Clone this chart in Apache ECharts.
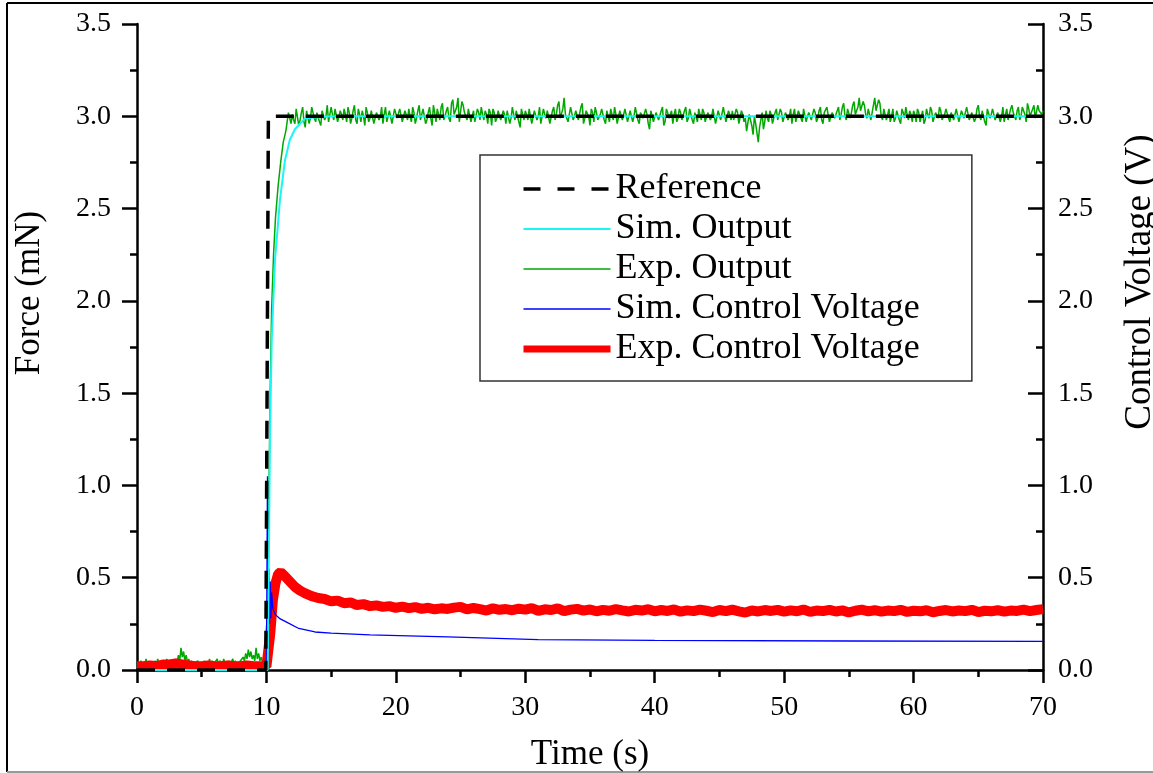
<!DOCTYPE html>
<html>
<head>
<meta charset="utf-8">
<script src="https://cdn.jsdelivr.net/npm/echarts@6/dist/echarts.min.js"></script>
<style>
html,body{margin:0;padding:0;background:#fff;}
#chart{width:1153px;height:773px;}
</style>
</head>
<body>
<div id="chart"></div>
<script>
// ---- Data ----
const seriesNames = ['Reference', 'Sim. Output', 'Exp. Output', 'Sim. Control Voltage', 'Exp. Control Voltage'];
const xTicks = { min: 0, max: 70, interval: 10 };
const yTicks = { min: 0, max: 3.5, interval: 0.5 };

// Reference step [t, F]
const referenceData = [[0, 0], [9.95, 0], [10.15, 3.0], [70, 3.0]];

// Simulated output [t, F]
const simOutputData = [[0, 0], [10.1, 0], [10.2, 0.7], [10.28, 1.3], [10.41, 1.79], [10.66, 2.22],
  [11.05, 2.55], [11.43, 2.76], [11.8, 2.87], [12.2, 2.93], [13.0, 2.99], [15.0, 3.0], [70, 3.0]];

// Experimental output: before step, sampled every 0.1 s from 0 s
const expOutPre = [
  0.03,0.04,0.02,0.05,0.03,0.04,0.03,0.06,0.02,0.04,
  0.05,0.03,0.04,0.02,0.05,0.03,0.06,0.03,0.04,0.02,
  0.05,0.04,0.03,0.06,0.03,0.05,0.02,0.04,0.05,0.03,
  0.06,0.04,0.08,0.05,0.12,0.07,0.10,0.05,0.08,0.04,
  0.06,0.03,0.05,0.04,0.02,0.04,0.03,0.05,0.02,0.03,
  0.04,0.02,0.05,0.03,0.04,0.02,0.06,0.03,0.05,0.02,
  0.04,0.03,0.06,0.02,0.05,0.04,0.03,0.06,0.03,0.04,
  0.02,0.05,0.03,0.04,0.06,0.03,0.05,0.02,0.04,0.03,
  0.05,0.04,0.07,0.05,0.09,0.06,0.11,0.07,0.10,0.06,
  0.08,0.05,0.12,0.06,0.09,0.05,0.07,0.04,0.05,0.03
];
// Experimental output: rise [t, F]
const expOutRise = [[10.0, 0.04], [10.1, 0.3], [10.2, 1.0], [10.3, 1.55], [10.4, 1.95], [10.55, 2.25],
  [10.7, 2.45], [10.9, 2.62], [11.1, 2.75], [11.3, 2.86], [11.5, 2.92], [11.7, 3.02], [11.9, 2.96]];
// Experimental output: steady state, samples at 12.0, 12.2, 12.4 ... 70.0 s
const expOutSteadyA = [
  3.01,2.96,3.03,2.98,3.05,2.94,3.02,2.99,3.06,2.97,
  3.02,2.95,3.04,3.00,2.97,3.05,2.98,3.03,2.96,3.01,
  3.04,2.97,3.02,2.99,3.06,2.96,3.01,3.03,2.95,3.02,
  2.99,3.04,2.97,3.03,3.00,2.96,3.05,2.98,3.02,2.97,
  3.03,2.98,3.05,2.96,3.01,3.04,2.97,3.02,2.99,3.06,
  2.97,3.03,2.98,3.05,2.95,3.02,3.04,2.98,3.07,3.00,
  3.05,2.97,3.09,3.02,3.10,2.98,3.06,3.01,3.04,2.97,
  3.03,2.96,3.02,3.05,2.98,3.01,3.04,2.95,3.02,2.99,
  3.04,2.97,3.01,3.03,2.96,3.05,2.98,3.02,2.94,3.01,
  3.03,2.98,3.05,2.97,3.02,3.00,2.96,3.04,2.99,3.03,
  2.97,3.05,3.01,3.08,2.98,3.10,3.02,2.96,3.06,3.00,
  3.04,2.97,3.07,2.99,3.03,2.95,3.02,3.05,2.98,3.01,
  3.03,2.96,3.02,3.04,2.98,3.01,2.95,3.03,2.99,3.05,
  2.97,3.02,3.00,3.04,2.96,3.03,2.98,3.01,2.93,3.00,
  2.96,3.03,2.98,3.05,2.97,3.02,3.00,2.96,3.04,2.99,
  3.02,2.97,3.05,2.99,3.03,2.96,3.01,3.04,2.98,3.02,
  2.96,3.03,3.00,3.05,2.97,3.02,2.99,3.04,2.98,3.01,
  3.03,2.97,3.02,2.95,3.01,2.99,2.93,3.02,2.90,2.96,
  2.86,2.98,2.93,3.03,2.97,3.01,2.95,3.04,2.99,3.02,
  2.97,3.03,3.00,2.96,3.04,2.98,3.02,2.97,3.05,3.00,
  3.03,2.97,3.02,2.99,3.05,2.96,3.01,3.04,2.98,3.03,
  2.99,3.05,3.01,3.07,2.98,3.04,3.02,3.08,3.00,3.10,
  3.03,3.06,2.99,3.05,3.02,3.10,3.04,3.07,2.98,3.03,
  3.01,2.97,3.04,2.99,3.03,2.96,3.02,3.05,2.98,3.01,
  3.03,2.97,3.02,3.00,2.96,3.04,2.99,3.03,2.97,3.02,
  3.05,2.98,3.01,3.04,2.97,3.03,2.99,3.05,2.96,3.02,
  3.00,3.04,2.97,3.03,2.99,3.06,2.98,3.02,2.95,3.03,
  3.01,3.05,2.98,3.03,3.00,2.97,3.04,2.99,3.06,3.01,
  3.03,2.98,3.05,3.01,3.07,3.00,3.04,2.99,3.06,3.02,
  3.03
];
// Experimental output: steady state, samples at 12.1, 12.3, 12.5 ... 69.9 s
const expOutSteadyB = [
  2.98,3.04,2.95,3.02,2.97,3.03,2.96,3.05,2.99,3.02,
  2.97,3.03,2.98,3.06,2.96,3.01,3.04,2.97,3.03,2.98,
  3.01,3.05,2.96,3.03,2.98,3.04,2.97,3.00,3.05,2.97,
  3.03,2.96,3.02,2.98,3.05,3.01,2.97,3.03,2.96,3.04,
  2.99,3.04,2.97,3.03,2.98,3.00,3.05,2.96,3.03,2.98,
  3.04,2.96,3.02,2.99,3.06,2.97,3.01,3.05,2.98,3.03,
  2.99,3.07,3.01,3.05,2.97,3.08,3.02,2.98,3.03,3.00,
  2.97,3.04,2.98,3.01,3.03,2.96,3.02,3.04,2.97,3.03,
  2.98,3.03,2.96,3.04,2.99,3.01,3.03,2.97,3.04,2.98,
  3.01,3.04,2.96,3.03,2.98,3.05,2.97,3.01,3.03,2.96,
  3.03,2.98,3.06,2.99,3.04,3.01,2.97,3.05,2.98,3.03,
  2.98,3.05,2.96,3.03,3.00,3.04,2.97,3.02,2.99,3.04,
  2.98,3.03,2.97,3.01,3.05,2.96,3.03,2.98,3.04,2.97,
  3.03,2.97,3.05,2.98,3.02,2.99,3.04,2.96,3.03,2.97,
  3.02,2.98,3.03,2.95,3.04,2.99,3.03,3.01,2.97,3.04,
  2.98,3.03,2.97,3.04,2.98,3.02,2.97,3.01,3.04,2.97,
  3.02,2.98,3.04,2.96,3.03,2.98,3.05,2.97,3.03,2.98,
  2.98,3.04,2.96,3.03,2.97,2.92,3.01,2.95,3.00,2.91,
  2.94,3.02,2.97,2.99,3.03,2.96,3.02,2.98,3.04,2.97,
  3.02,2.98,3.04,3.01,2.97,3.03,2.99,3.04,2.97,3.02,
  2.98,3.04,2.97,3.03,2.98,3.02,3.05,2.97,3.02,2.99,
  3.03,2.98,3.05,3.00,3.04,2.99,3.06,3.01,3.05,3.03,
  3.08,3.01,3.04,2.98,3.06,3.03,3.09,3.00,3.04,2.98,
  3.04,3.00,2.97,3.03,2.98,3.04,2.99,3.01,3.03,2.97,
  3.01,3.04,2.97,3.03,2.98,3.01,3.05,2.97,3.02,2.99,
  3.03,2.97,3.04,2.99,3.02,2.98,3.04,2.97,3.03,2.99,
  3.05,2.98,3.02,2.97,3.04,3.00,3.03,2.97,3.04,2.99,
  3.04,2.98,3.02,2.97,3.05,3.01,2.98,3.04,3.02,2.98,
  3.05,3.00,3.03,2.97,3.04,3.02,3.06,2.99,3.03,3.01
];

// Simulated control voltage [t, V]
const simVoltageData = [[0, 0], [10.0, 0], [10.08, 1.05], [10.14, 0.3], [10.19, 0.55], [10.24, 0.25],
  [10.29, 0.48], [10.34, 0.28], [10.4, 0.42], [10.5, 0.33], [10.7, 0.3], [11.0, 0.28], [11.67, 0.255],
  [12.5, 0.225], [13.75, 0.206], [15, 0.2], [18, 0.19], [24, 0.18], [31, 0.165], [40, 0.16], [55, 0.157], [70, 0.155]];

// Experimental control voltage: before step, sampled every 0.5 s from 0 s
const expVoltPre = [0.02,0.02,0.025,0.02,0.03,0.03,0.035,0.03,0.025,0.02,0.02,0.025,0.02,0.02,0.025,0.02,0.02,0.025,0.02,0.02,0.02];
// rise and peak [t, V]
const expVoltRise = [[10.1, 0.02], [10.3, 0.2], [10.5, 0.38], [10.7, 0.47], [10.9, 0.52], [11.1, 0.53],
  [11.4, 0.51], [11.8, 0.48], [12.2, 0.45], [12.6, 0.43], [13.0, 0.415], [13.5, 0.40]];
// decay / steady, sampled every 0.5 s from 14 s
const expVoltSteady = [
  0.39,0.385,0.372,0.376,0.362,0.366,0.352,0.357,0.346,0.35,
  0.342,0.346,0.337,0.343,0.335,0.341,0.331,0.337,0.329,0.334,
  0.331,0.338,0.342,0.328,0.336,0.33,0.322,0.334,0.326,0.33,
  0.324,0.332,0.327,0.335,0.321,0.329,0.325,0.334,0.319,0.327,
  0.331,0.322,0.328,0.318,0.326,0.321,0.33,0.323,0.317,0.326,
  0.322,0.329,0.318,0.325,0.32,0.328,0.316,0.323,0.319,0.327,
  0.321,0.314,0.325,0.319,0.327,0.318,0.311,0.322,0.317,0.325,
  0.32,0.326,0.316,0.323,0.318,0.328,0.315,0.322,0.319,0.326,
  0.317,0.323,0.312,0.321,0.327,0.318,0.324,0.316,0.322,0.319,
  0.326,0.315,0.321,0.318,0.324,0.313,0.32,0.325,0.317,0.322,
  0.319,0.326,0.314,0.321,0.318,0.324,0.316,0.322,0.32,0.327,
  0.319,0.325,0.33
];

// ---- Assemble sampled series ----
function sampled(values, t0, dt) {
  return values.map((v, i) => [+(t0 + i * dt).toFixed(3), v]);
}
const steadyA = sampled(expOutSteadyA, 12, 0.2);
const steadyB = sampled(expOutSteadyB, 12.1, 0.2);
const steadyMerged = steadyA.concat(steadyB).sort((a, b) => a[0] - b[0]);
const expOutputData = sampled(expOutPre, 0, 0.1).concat(expOutRise, steadyMerged);
const expVoltageData = sampled(expVoltPre, 0, 0.5).concat(expVoltRise, sampled(expVoltSteady, 14, 0.5));

const FONT = 'Liberation Serif';
const chart = echarts.init(document.getElementById('chart'), null, { renderer: 'canvas' });

function yAxisBase(pos) {
  return {
    type: 'value', position: pos,
    min: yTicks.min, max: yTicks.max, interval: yTicks.interval,
    axisLine: { show: true, lineStyle: { color: '#000', width: 2.5 } },
    axisTick: { show: true, length: 15, inside: pos === 'right', lineStyle: { color: '#000', width: 2.5 } },
    minorTick: { show: true, splitNumber: 2, length: 7, lineStyle: { color: '#000', width: 2.5 } },
    splitLine: { show: false },
    axisLabel: { color: '#000', fontFamily: FONT, fontSize: 28, margin: pos === 'right' ? 15 : 26,
      formatter: v => v.toFixed(1) },
    nameLocation: 'middle', nameRotate: 90,
    nameTextStyle: { color: '#000', fontFamily: FONT, fontSize: 35 }
  };
}
const yLeft = yAxisBase('left');
yLeft.name = 'Force (mN)';
yLeft.nameGap = 90;
yLeft.nameTextStyle.padding = [0, 0, 0, 108];
const yRight = yAxisBase('right');
yRight.name = 'Control Voltage (V)';
yRight.nameGap = 79;
yRight.nameTextStyle.fontSize = 37;
yRight.nameTextStyle.padding = [0, 0, 0, 130];

const option = {
  backgroundColor: '#fff',
  animation: false,
  grid: { left: 137, right: 110, top: 24, bottom: 103, containLabel: false, outerBoundsMode: 'none' },
  xAxis: {
    type: 'value', min: xTicks.min, max: xTicks.max, interval: xTicks.interval,
    name: 'Time (s)', nameLocation: 'middle', nameGap: 67,
    nameTextStyle: { color: '#000', fontFamily: FONT, fontSize: 35 },
    axisLine: { show: true, lineStyle: { color: '#000', width: 2.5 } },
    axisTick: { show: true, length: 13, lineStyle: { color: '#000', width: 2.5 } },
    minorTick: { show: true, splitNumber: 2, length: 7, lineStyle: { color: '#000', width: 2.5 } },
    splitLine: { show: false },
    axisLabel: { color: '#000', fontFamily: FONT, fontSize: 28, margin: 24 }
  },
  yAxis: [yLeft, yRight],
  legend: {
    data: [
      { name: seriesNames[0], lineStyle: { width: 3.5, type: [17, 17] } },
      { name: seriesNames[1], lineStyle: { width: 2 } },
      { name: seriesNames[2], lineStyle: { width: 1.3 } },
      { name: seriesNames[3], lineStyle: { width: 1.3 } },
      { name: seriesNames[4], lineStyle: { width: 7 } }
    ],
    orient: 'vertical',
    left: 480, top: 155,
    padding: [16, 52, 14, 40],
    borderColor: '#333', borderWidth: 1.5,
    itemWidth: 87, itemHeight: 20, itemGap: 4,
    itemStyle: { opacity: 0 },
    textStyle: { color: '#000', fontFamily: FONT, fontSize: 36 }
  },
  graphic: [
    { type: 'line', silent: true, shape: { x1: 7, y1: 3, x2: 1153, y2: 3 }, style: { stroke: '#000', lineWidth: 2 } },
    { type: 'line', silent: true, shape: { x1: 7, y1: 3, x2: 7, y2: 772 }, style: { stroke: '#000', lineWidth: 2 } },
    { type: 'line', silent: true, shape: { x1: 7, y1: 772, x2: 1153, y2: 772 }, style: { stroke: '#999', lineWidth: 2 } }
  ],
  series: [
    { name: seriesNames[0], type: 'line', data: referenceData, symbol: 'none', yAxisIndex: 0, z: 6,
      lineStyle: { color: '#000', width: 3.5, type: [18, 12] }, itemStyle: { color: '#000' } },
    { name: seriesNames[1], type: 'line', data: simOutputData, symbol: 'none', yAxisIndex: 0, z: 5,
      lineStyle: { color: '#1AF5F5', width: 2 }, itemStyle: { color: '#1AF5F5' } },
    { name: seriesNames[2], type: 'line', data: expOutputData, symbol: 'none', yAxisIndex: 0, z: 2,
      lineStyle: { color: '#00A800', width: 1.5 }, itemStyle: { color: '#00A800' } },
    { name: seriesNames[3], type: 'line', data: simVoltageData, symbol: 'none', yAxisIndex: 1, z: 4,
      lineStyle: { color: '#0000FF', width: 1.3 }, itemStyle: { color: '#0000FF' } },
    { name: seriesNames[4], type: 'line', data: expVoltageData, symbol: 'none', yAxisIndex: 1, z: 3,
      lineStyle: { color: '#FF0000', width: 10 }, itemStyle: { color: '#FF0000' } }
  ]
};
chart.setOption(option);
</script>
</body>
</html>
